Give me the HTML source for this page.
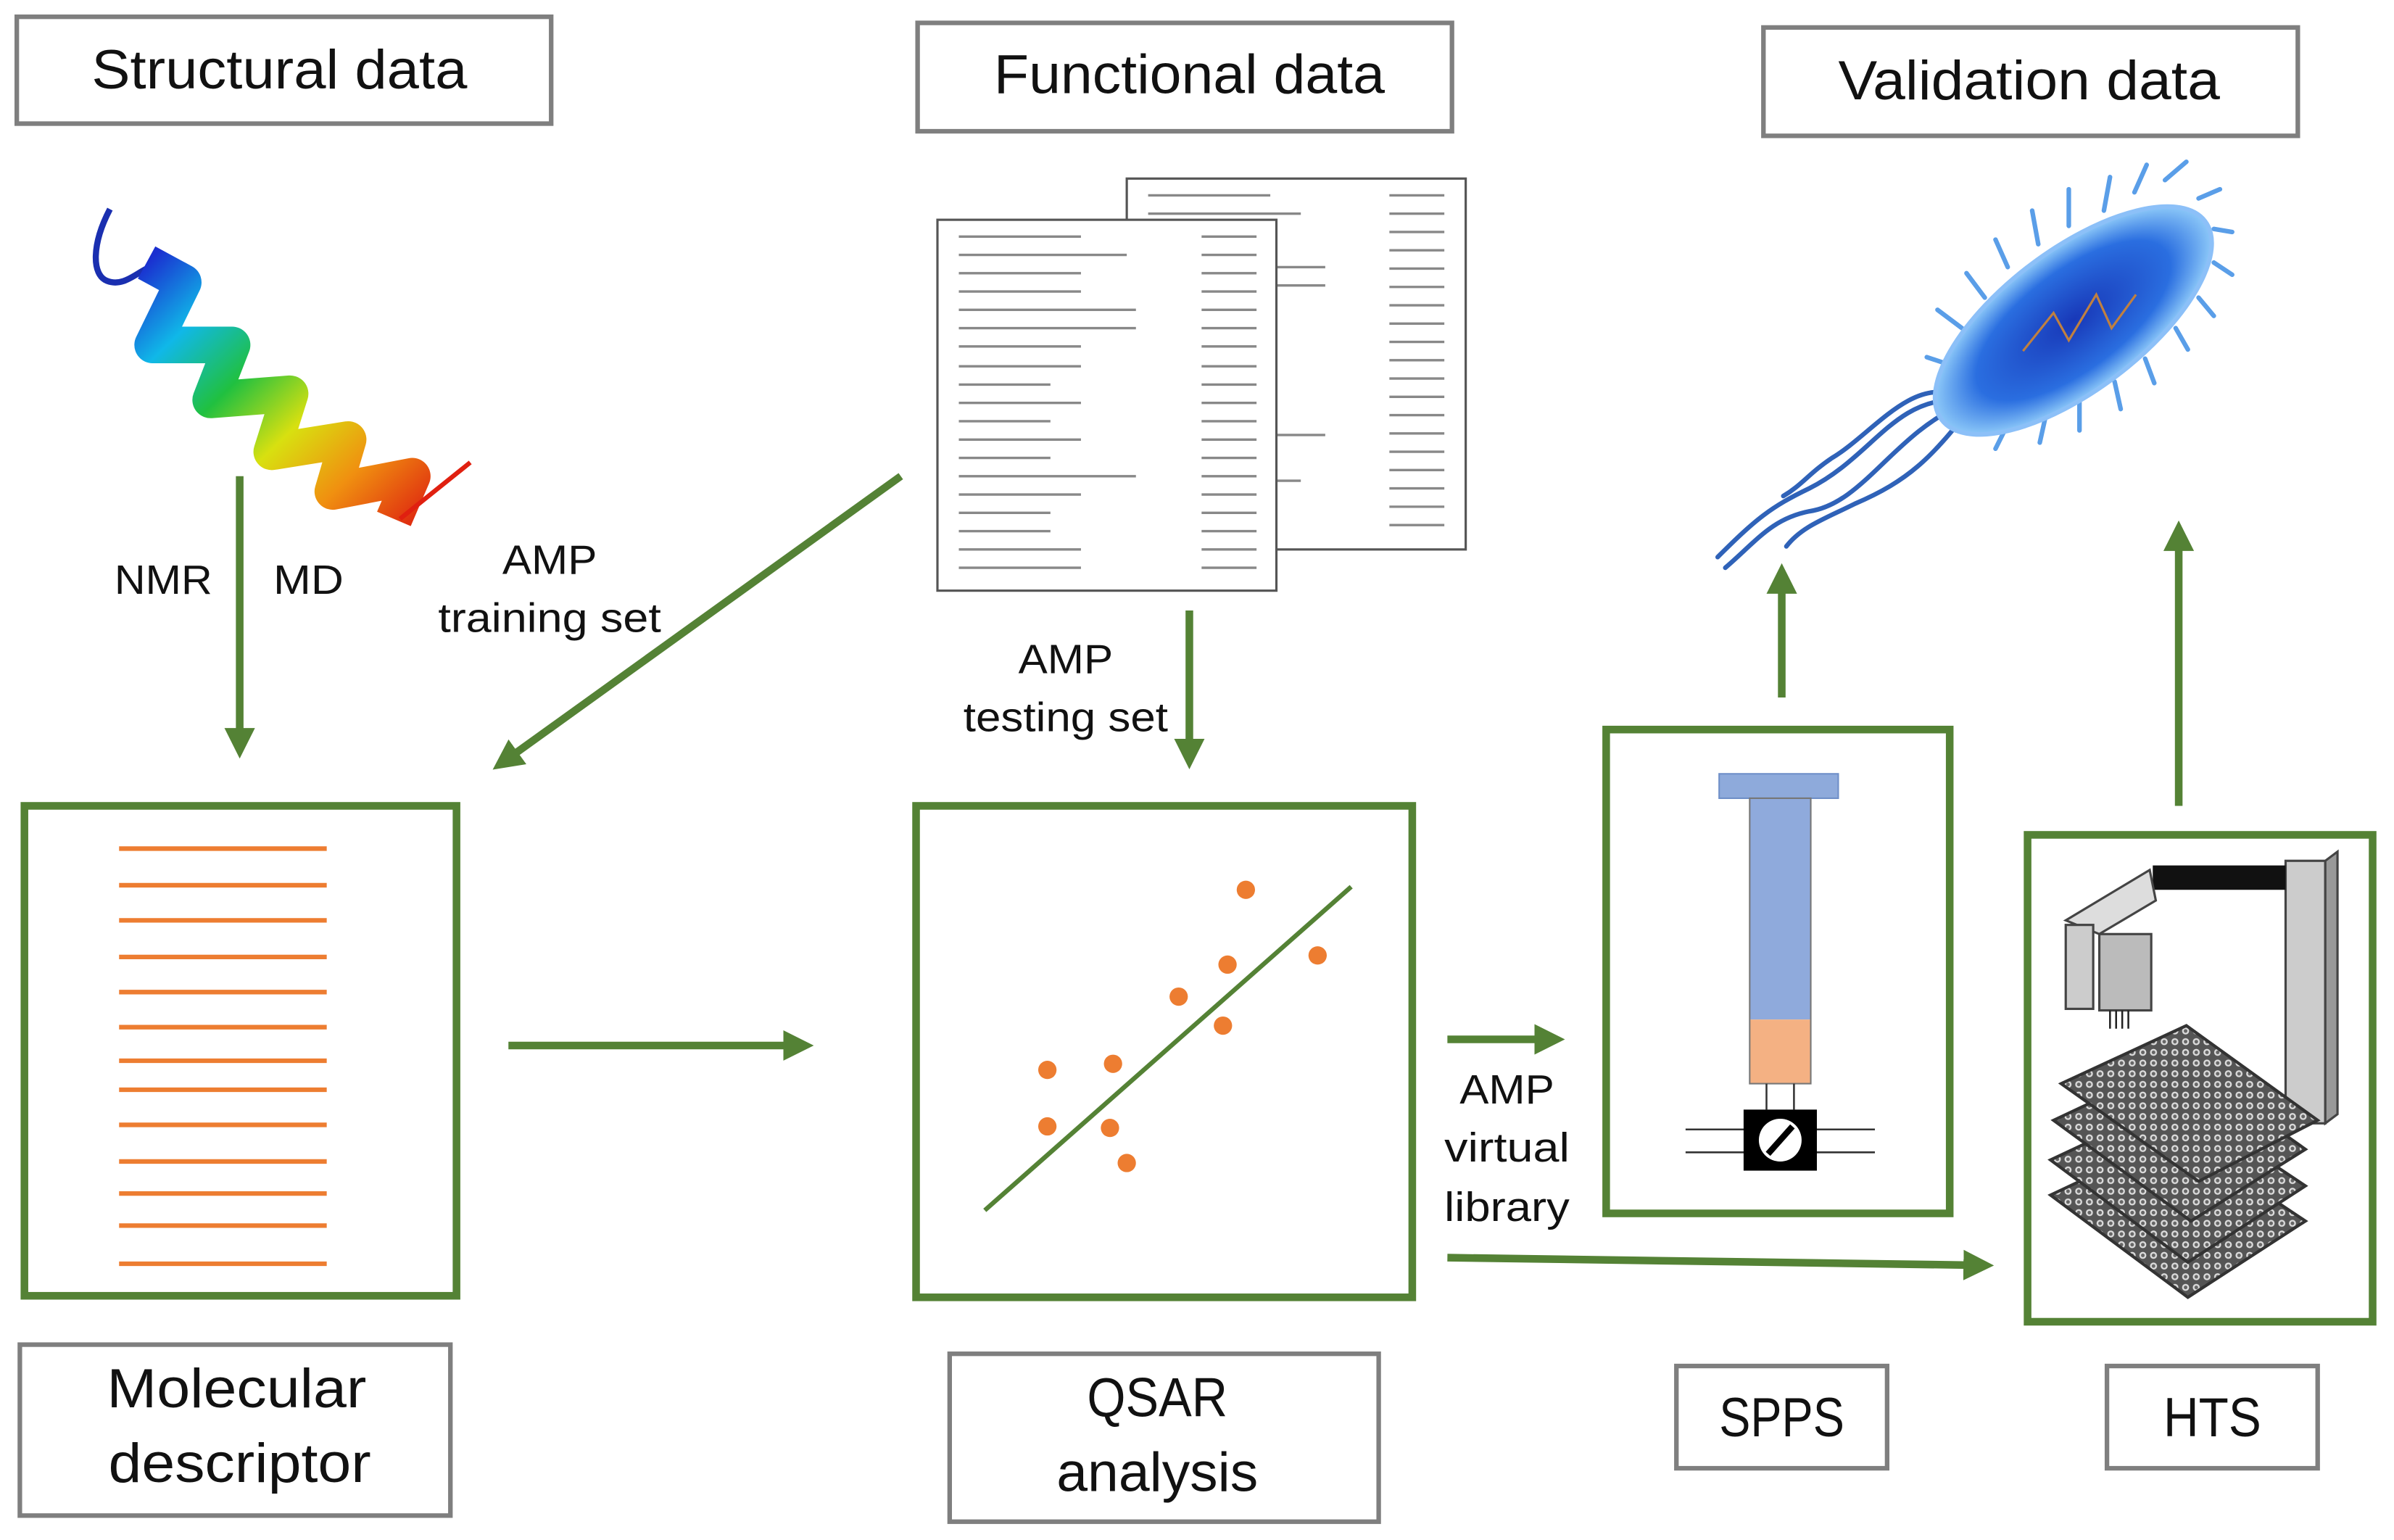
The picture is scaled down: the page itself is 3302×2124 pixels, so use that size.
<!DOCTYPE html>
<html><head><meta charset="utf-8"><style>
html,body{margin:0;padding:0;background:#fff;}
svg{display:block;}
text{font-family:"Liberation Sans",sans-serif;fill:#111;}
</style></head><body>
<svg width="3302" height="2124" viewBox="0 0 1568 1009" preserveAspectRatio="none" xmlns="http://www.w3.org/2000/svg">
<defs>
<linearGradient id="rb" x1="0" y1="0" x2="1" y2="1">
<stop offset="0" stop-color="#1a2fd0"/><stop offset="0.2" stop-color="#10b8e8"/><stop offset="0.4" stop-color="#20c040"/><stop offset="0.6" stop-color="#d8e010"/><stop offset="0.8" stop-color="#f09010"/><stop offset="1" stop-color="#e03010"/>
</linearGradient>
<radialGradient id="bac" cx="0.5" cy="0.5" r="0.5"><stop offset="0" stop-color="#1838b8"/><stop offset="0.7" stop-color="#2a6ee0"/><stop offset="1" stop-color="#8cc8f8"/></radialGradient>
<pattern id="wells" width="7" height="7" patternUnits="userSpaceOnUse"><rect width="7" height="7" fill="#555"/><circle cx="3.5" cy="3.5" r="2.3" fill="#ddd"/><circle cx="3.5" cy="3.5" r="1.2" fill="#666"/></pattern>
<marker id="ah" markerWidth="4" markerHeight="4" refX="2.2" refY="2" orient="auto" markerUnits="strokeWidth"><path d="M0,0 L4,2 L0,4 z" fill="#548235"/></marker>
</defs>

<!-- top label boxes -->
<g fill="#fff" stroke="#7f7f7f" stroke-width="3">
<rect x="11" y="11" width="350" height="70"/>
<rect x="601" y="15" width="350" height="71"/>
<rect x="1155" y="18" width="350" height="71"/>
<rect x="13" y="881" width="282" height="112"/>
<rect x="622" y="887" width="281" height="110"/>
<rect x="1098" y="895" width="138" height="67"/>
<rect x="1380" y="895" width="138" height="67"/>
</g>
<g font-size="36" text-anchor="middle">
<text x="183" y="58" textLength="246" lengthAdjust="spacingAndGlyphs">Structural data</text>
<text x="779" y="61" textLength="256" lengthAdjust="spacingAndGlyphs">Functional data</text>
<text x="1329" y="65" textLength="250" lengthAdjust="spacingAndGlyphs">Validation data</text>
<text x="155" y="922" textLength="170" lengthAdjust="spacingAndGlyphs">Molecular</text>
<text x="157" y="971" textLength="172" lengthAdjust="spacingAndGlyphs">descriptor</text>
<text x="758" y="928" textLength="92" lengthAdjust="spacingAndGlyphs">QSAR</text>
<text x="758" y="977" textLength="132" lengthAdjust="spacingAndGlyphs">analysis</text>
<text x="1167" y="941" textLength="82" lengthAdjust="spacingAndGlyphs">SPPS</text>
<text x="1449" y="941" textLength="64" lengthAdjust="spacingAndGlyphs">HTS</text>
</g>
<g font-size="27" text-anchor="middle">
<text x="107" y="389" textLength="64" lengthAdjust="spacingAndGlyphs">NMR</text>
<text x="202" y="389" textLength="46" lengthAdjust="spacingAndGlyphs">MD</text>
<text x="360" y="376" textLength="62" lengthAdjust="spacingAndGlyphs">AMP</text>
<text x="360" y="414" textLength="146" lengthAdjust="spacingAndGlyphs">training set</text>
<text x="698" y="441" textLength="62" lengthAdjust="spacingAndGlyphs">AMP</text>
<text x="698" y="479" textLength="134" lengthAdjust="spacingAndGlyphs">testing set</text>
<text x="987" y="723" textLength="62" lengthAdjust="spacingAndGlyphs">AMP</text>
<text x="987" y="761" textLength="82" lengthAdjust="spacingAndGlyphs">virtual</text>
<text x="987" y="800" textLength="82" lengthAdjust="spacingAndGlyphs">library</text>
</g>

<!-- helix -->
<path d="M72,137 C60,160 60,180 70,184 C80,188 88,180 96,176" fill="none" stroke="#1a2fb0" stroke-width="4"/>
<path d="M96,172 L120,185 L100,226 L152,226 L138,262 L190,258 L178,296 L228,288 L218,322 L270,312 L258,340" fill="none" stroke="url(#rb)" stroke-width="24" stroke-linejoin="round"/>
<path d="M262,340 L308,303" stroke="#e02010" stroke-width="3"/>

<!-- documents -->
<rect x="738" y="117" width="222" height="243" fill="#fff" stroke="#555" stroke-width="1.5"/>
<g stroke="#888" stroke-width="1.6">
<path d="M752,128h80M752,140h100M752,175h116M752,187h116M752,285h116M752,315h100"/>
<path d="M910,128h36M910,140h36M910,152h36M910,164h36M910,176h36M910,188h36M910,200h36M910,212h36M910,224h36M910,236h36M910,248h36M910,260h36M910,272h36M910,284h36M910,296h36M910,308h36M910,320h36M910,332h36M910,344h36"/>
</g>
<rect x="614" y="144" width="222" height="243" fill="#fff" stroke="#555" stroke-width="1.5"/>
<g stroke="#888" stroke-width="1.6">
<path d="M628,155h80M628,167h110M628,179h80M628,191h80M628,203h116M628,215h116M628,227h80M628,240h80M628,252h60M628,264h80M628,276h60M628,288h80M628,300h60M628,312h116M628,324h80M628,336h60M628,348h60M628,360h80M628,372h80"/>
<path d="M787,155h36M787,167h36M787,179h36M787,191h36M787,203h36M787,215h36M787,227h36M787,240h36M787,252h36M787,264h36M787,276h36M787,288h36M787,300h36M787,312h36M787,324h36M787,336h36M787,348h36M787,360h36M787,372h36"/>
</g>

<!-- bacterium -->
<g stroke="#2f62b8" stroke-width="3" fill="none" stroke-linecap="round">
<path d="M1280,262 C1240,262 1225,300 1185,320 C1160,332 1150,340 1125,365"/>
<path d="M1285,265 C1240,285 1220,330 1185,335 C1160,340 1150,355 1130,372"/>
<path d="M1290,268 C1265,300 1250,315 1215,330 C1195,340 1180,345 1170,358"/>
<path d="M1278,258 C1250,250 1225,285 1200,300 C1185,310 1180,318 1168,325"/>
</g>
<g stroke="#5a9ee8" stroke-width="3" stroke-linecap="round">
<path d="M1280,240l-18,-6M1285,215l-16,-12M1300,195l-12,-16M1315,175l-8,-18M1335,160l-4,-22M1355,148l0,-24M1378,138l4,-22M1398,126l8,-18M1418,118l14,-12M1440,130l14,-6M1450,150l12,2M1450,172l12,8M1440,195l10,12M1425,215l8,14M1405,235l6,16M1385,250l4,18M1362,262l0,20M1340,272l-4,18M1315,278l-8,16M1295,272l-14,10"/>
</g>
<ellipse cx="1358" cy="210" rx="108" ry="46" transform="rotate(-37 1358 210)" fill="url(#bac)" stroke="#8cc0f8" stroke-width="3"/>
<path d="M1325,230 l20,-25 l10,18 l18,-30 l10,22 l16,-22" fill="none" stroke="#c08040" stroke-width="1.5"/>

<!-- green boxes -->
<g fill="none" stroke="#548235" stroke-width="5">
<rect x="16" y="528" width="283" height="321"/>
<rect x="600" y="528" width="325" height="322"/>
<rect x="1052" y="478" width="225" height="317"/>
<rect x="1328" y="547" width="226" height="319"/>
</g>

<!-- arrows -->
<g stroke="#548235" stroke-width="5" fill="none" marker-end="url(#ah)">
<path d="M157,312 L157,488"/>
<path d="M590,312 L330,499"/>
<path d="M779,400 L779,495"/>
<path d="M333,685 L524,685"/>
<path d="M948,681 L1016,681"/>
<path d="M948,824 L1297,829"/>
<path d="M1167,457 L1167,378"/>
<path d="M1427,528 L1427,350"/>
</g>

<!-- molecular descriptor lines -->
<g stroke="#ed7d31" stroke-width="3">
<path d="M78,556h136M78,580h136M78,603h136M78,627h136M78,650h136M78,673h136M78,695h136M78,714h136M78,737h136M78,761h136M78,782h136M78,803h136M78,828h136"/>
</g>

<!-- QSAR -->
<path d="M645,793 L885,581" stroke="#548235" stroke-width="3"/>
<g fill="#ed7d31">
<circle cx="816" cy="583" r="6"/><circle cx="863" cy="626" r="6"/><circle cx="804" cy="632" r="6"/><circle cx="772" cy="653" r="6"/><circle cx="801" cy="672" r="6"/><circle cx="686" cy="701" r="6"/><circle cx="729" cy="697" r="6"/><circle cx="686" cy="738" r="6"/><circle cx="727" cy="739" r="6"/><circle cx="738" cy="762" r="6"/>
</g>

<!-- syringe -->
<rect x="1126" y="507" width="78" height="16" fill="#8eaadb" stroke="#6f8fc8" stroke-width="1"/>
<rect x="1146" y="523" width="40" height="145" fill="#8faadc"/>
<rect x="1146" y="668" width="40" height="42" fill="#f4b183"/>
<rect x="1146" y="523" width="40" height="187" fill="none" stroke="#777" stroke-width="1"/>
<path d="M1157,710v17M1175,710v17M1104,740h124M1104,755h124" stroke="#333" stroke-width="1.2"/>
<rect x="1142" y="727" width="48" height="40" fill="#000"/>
<circle cx="1166" cy="747" r="14" fill="#fff"/>
<path d="M1158,756 L1174,738" stroke="#000" stroke-width="4"/>

<!-- HTS robot -->
<rect x="1497" y="564" width="26" height="172" fill="#ccc" stroke="#444" stroke-width="1.5"/>
<polygon points="1523,564 1531,558 1531,730 1523,736" fill="#999" stroke="#444" stroke-width="1.5"/>
<polygon points="1410,567 1497,567 1497,583 1410,583" fill="#111"/>
<polygon points="1353,603 1408,570 1412,590 1375,612" fill="#ddd" stroke="#444" stroke-width="1.5"/>
<rect x="1353" y="606" width="18" height="55" fill="#ccc" stroke="#444" stroke-width="1.5"/>
<rect x="1375" y="612" width="34" height="50" fill="#bbb" stroke="#444" stroke-width="1.5"/>
<path d="M1382,662v12M1386,662v12M1390,662v12M1394,662v12" stroke="#222" stroke-width="1.2"/>
<g stroke="#333" stroke-width="2" fill="url(#wells)">
<polygon points="1343,783 1426,744 1510,800 1433,850"/>
<polygon points="1343,760 1426,721 1510,777 1433,827"/>
<polygon points="1345,734 1428,695 1510,753 1435,800"/>
<polygon points="1350,710 1432,672 1518,734 1440,774"/>
</g>
</svg>
</body></html>
